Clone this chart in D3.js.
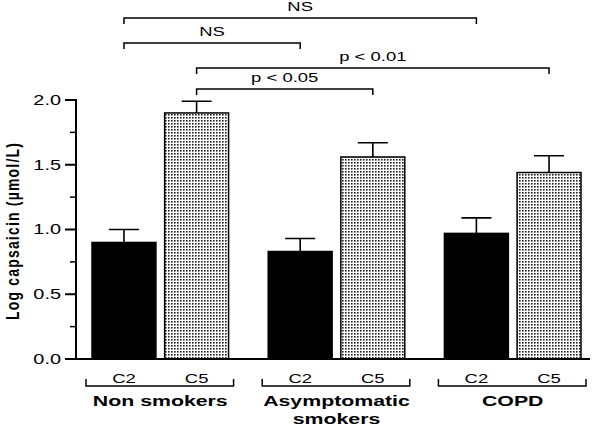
<!DOCTYPE HTML>
<html>
<head>
  <meta charset="utf-8">
  <title>capsaicin</title>
  <script src="https://d3js.org/d3.v7.min.js"></script>
  <style>
    body { margin: 0; background: #fff; }
    text { font-family: "Liberation Sans", Arial, sans-serif; fill: #000; }
  </style>
</head>
<body>
  <script>
    const groups = ['Non smokers', 'Asymptomatic smokers', 'COPD'];
    const groupLines = [['Non smokers'], ['Asymptomatic', 'smokers'], ['COPD']];
    const subs = ['C2', 'C5'];
    const means = [[0.90, 1.90], [0.83, 1.56], [0.97, 1.44]];
    const errs = [[0.10, 0.09], [0.10, 0.11], [0.12, 0.13]];
    const yTicks = [0, 0.5, 1.0, 1.5, 2.0];
    const yMinor = [0.25, 0.75, 1.25, 1.75];
    const comps = [
      { a: [0, 0], b: [2, 0], label: 'NS' },
      { a: [0, 0], b: [1, 0], label: 'NS' },
      { a: [0, 1], b: [2, 1], label: 'p < 0.01' },
      { a: [0, 1], b: [1, 1], label: 'p < 0.05' },
    ];
    const compY = [18, 43, 68, 89]; // bracket heights in px

    const W = 600, H = 426;
    const SX = 1.42; // the picture is stretched sideways

    const svg = d3.select('body').append('svg')
      .attr('width', W)
      .attr('height', H);

    const defs = svg.append('defs');
    const pat = defs.append('pattern')
      .attr('id', 'dots')
      .attr('patternUnits', 'userSpaceOnUse')
      .attr('width', 3)
      .attr('height', 3);
    pat.append('rect').attr('width', 3).attr('height', 3).attr('fill', '#fff');
    pat.append('rect').attr('width', 1.6).attr('height', 1.6).attr('fill', '#222');

    const y = d3.scaleLinear().domain([0, 2]).range([359, 100]);
    const x0 = d3.scaleBand().domain(groups).range([92, 581]).paddingInner(0.225);
    const x1 = d3.scaleBand().domain(subs).range([0, x0.bandwidth()]).paddingInner(0.12);
    const cx = (g, s) => x0(groups[g]) + x1(subs[s]) + x1.bandwidth() / 2;

    // stretched text helper
    function label(px, py, str, size, weight, anchor) {
      return svg.append('text')
        .attr('x', px / SX)
        .attr('y', py)
        .attr('transform', `scale(${SX},1)`)
        .attr('font-size', size)
        .attr('font-weight', weight || 'normal')
        .attr('text-anchor', anchor || 'middle')
        .text(str);
    }

    // bars
    const bars = [];
    groups.forEach((g, gi) => subs.forEach((s, si) => bars.push({ gi, si, v: means[gi][si], e: errs[gi][si] })));

    svg.selectAll('.bar')
      .data(bars)
      .enter()
      .append('rect')
      .attr('x', d => x0(groups[d.gi]) + x1(subs[d.si]))
      .attr('y', d => y(d.v))
      .attr('width', x1.bandwidth())
      .attr('height', d => y(0) - y(d.v))
      .attr('fill', d => d.si === 0 ? '#000' : 'url(#dots)')
      .attr('stroke', '#000')
      .attr('stroke-width', 1.5);

    // error bars (upper only)
    svg.selectAll('.err')
      .data(bars)
      .enter()
      .append('path')
      .attr('d', d => {
        const c = cx(d.gi, d.si), top = y(d.v + d.e);
        return `M${c},${y(d.v)}V${top}M${c - 15},${top}H${c + 15}`;
      })
      .attr('stroke', '#000')
      .attr('stroke-width', 1.6)
      .attr('fill', 'none');

    // axes
    svg.append('path')
      .attr('d', `M76,${y(2)}V${y(0)}H590`)
      .attr('stroke', '#000')
      .attr('stroke-width', 2)
      .attr('fill', 'none');

    svg.selectAll('.tk')
      .data(yTicks)
      .enter()
      .append('line')
      .attr('x1', 65).attr('x2', 77)
      .attr('y1', d => y(d)).attr('y2', d => y(d))
      .attr('stroke', '#000').attr('stroke-width', 2);

    svg.selectAll('.mtk')
      .data(yMinor)
      .enter()
      .append('line')
      .attr('x1', 70).attr('x2', 77)
      .attr('y1', d => y(d)).attr('y2', d => y(d))
      .attr('stroke', '#000').attr('stroke-width', 1.5);

    yTicks.forEach(t => label(61, y(t) + 5, d3.format('.1f')(t), 14, 'normal', 'end'));

    svg.append('text')
      .attr('transform', `translate(19,231) rotate(-90) scale(1,1.3)`)
      .attr('text-anchor', 'middle')
      .attr('font-size', 14)
      .attr('font-weight', 'bold')
      .attr('letter-spacing', 1.2)
      .text('Log capsaicin (µmol/L)');

    // sub labels and group brackets
    bars.forEach(d => label(cx(d.gi, d.si), 383, subs[d.si], 13));

    groups.forEach((g, gi) => {
      const a = x0(g) - 6, b = x0(g) + x0.bandwidth() + 5;
      svg.append('path')
        .attr('d', `M${a},379V386H${b}V379`)
        .attr('stroke', '#000').attr('stroke-width', 1.5).attr('fill', 'none');
      groupLines[gi].forEach((ln, li) => label(x0(g) + x0.bandwidth() / 2, 406 + li * 18, ln, 15, 'bold'));
    });

    // significance brackets
    comps.forEach((c, i) => {
      const a = cx(c.a[0], c.a[1]), b = cx(c.b[0], c.b[1]), ly = compY[i];
      svg.append('path')
        .attr('d', `M${a},${ly + 6}V${ly}H${b}V${ly + 6}`)
        .attr('stroke', '#000').attr('stroke-width', 1.5).attr('fill', 'none');
      label((a + b) / 2, ly - 7, c.label, 13);
    });
  </script>
</body>
</html>
